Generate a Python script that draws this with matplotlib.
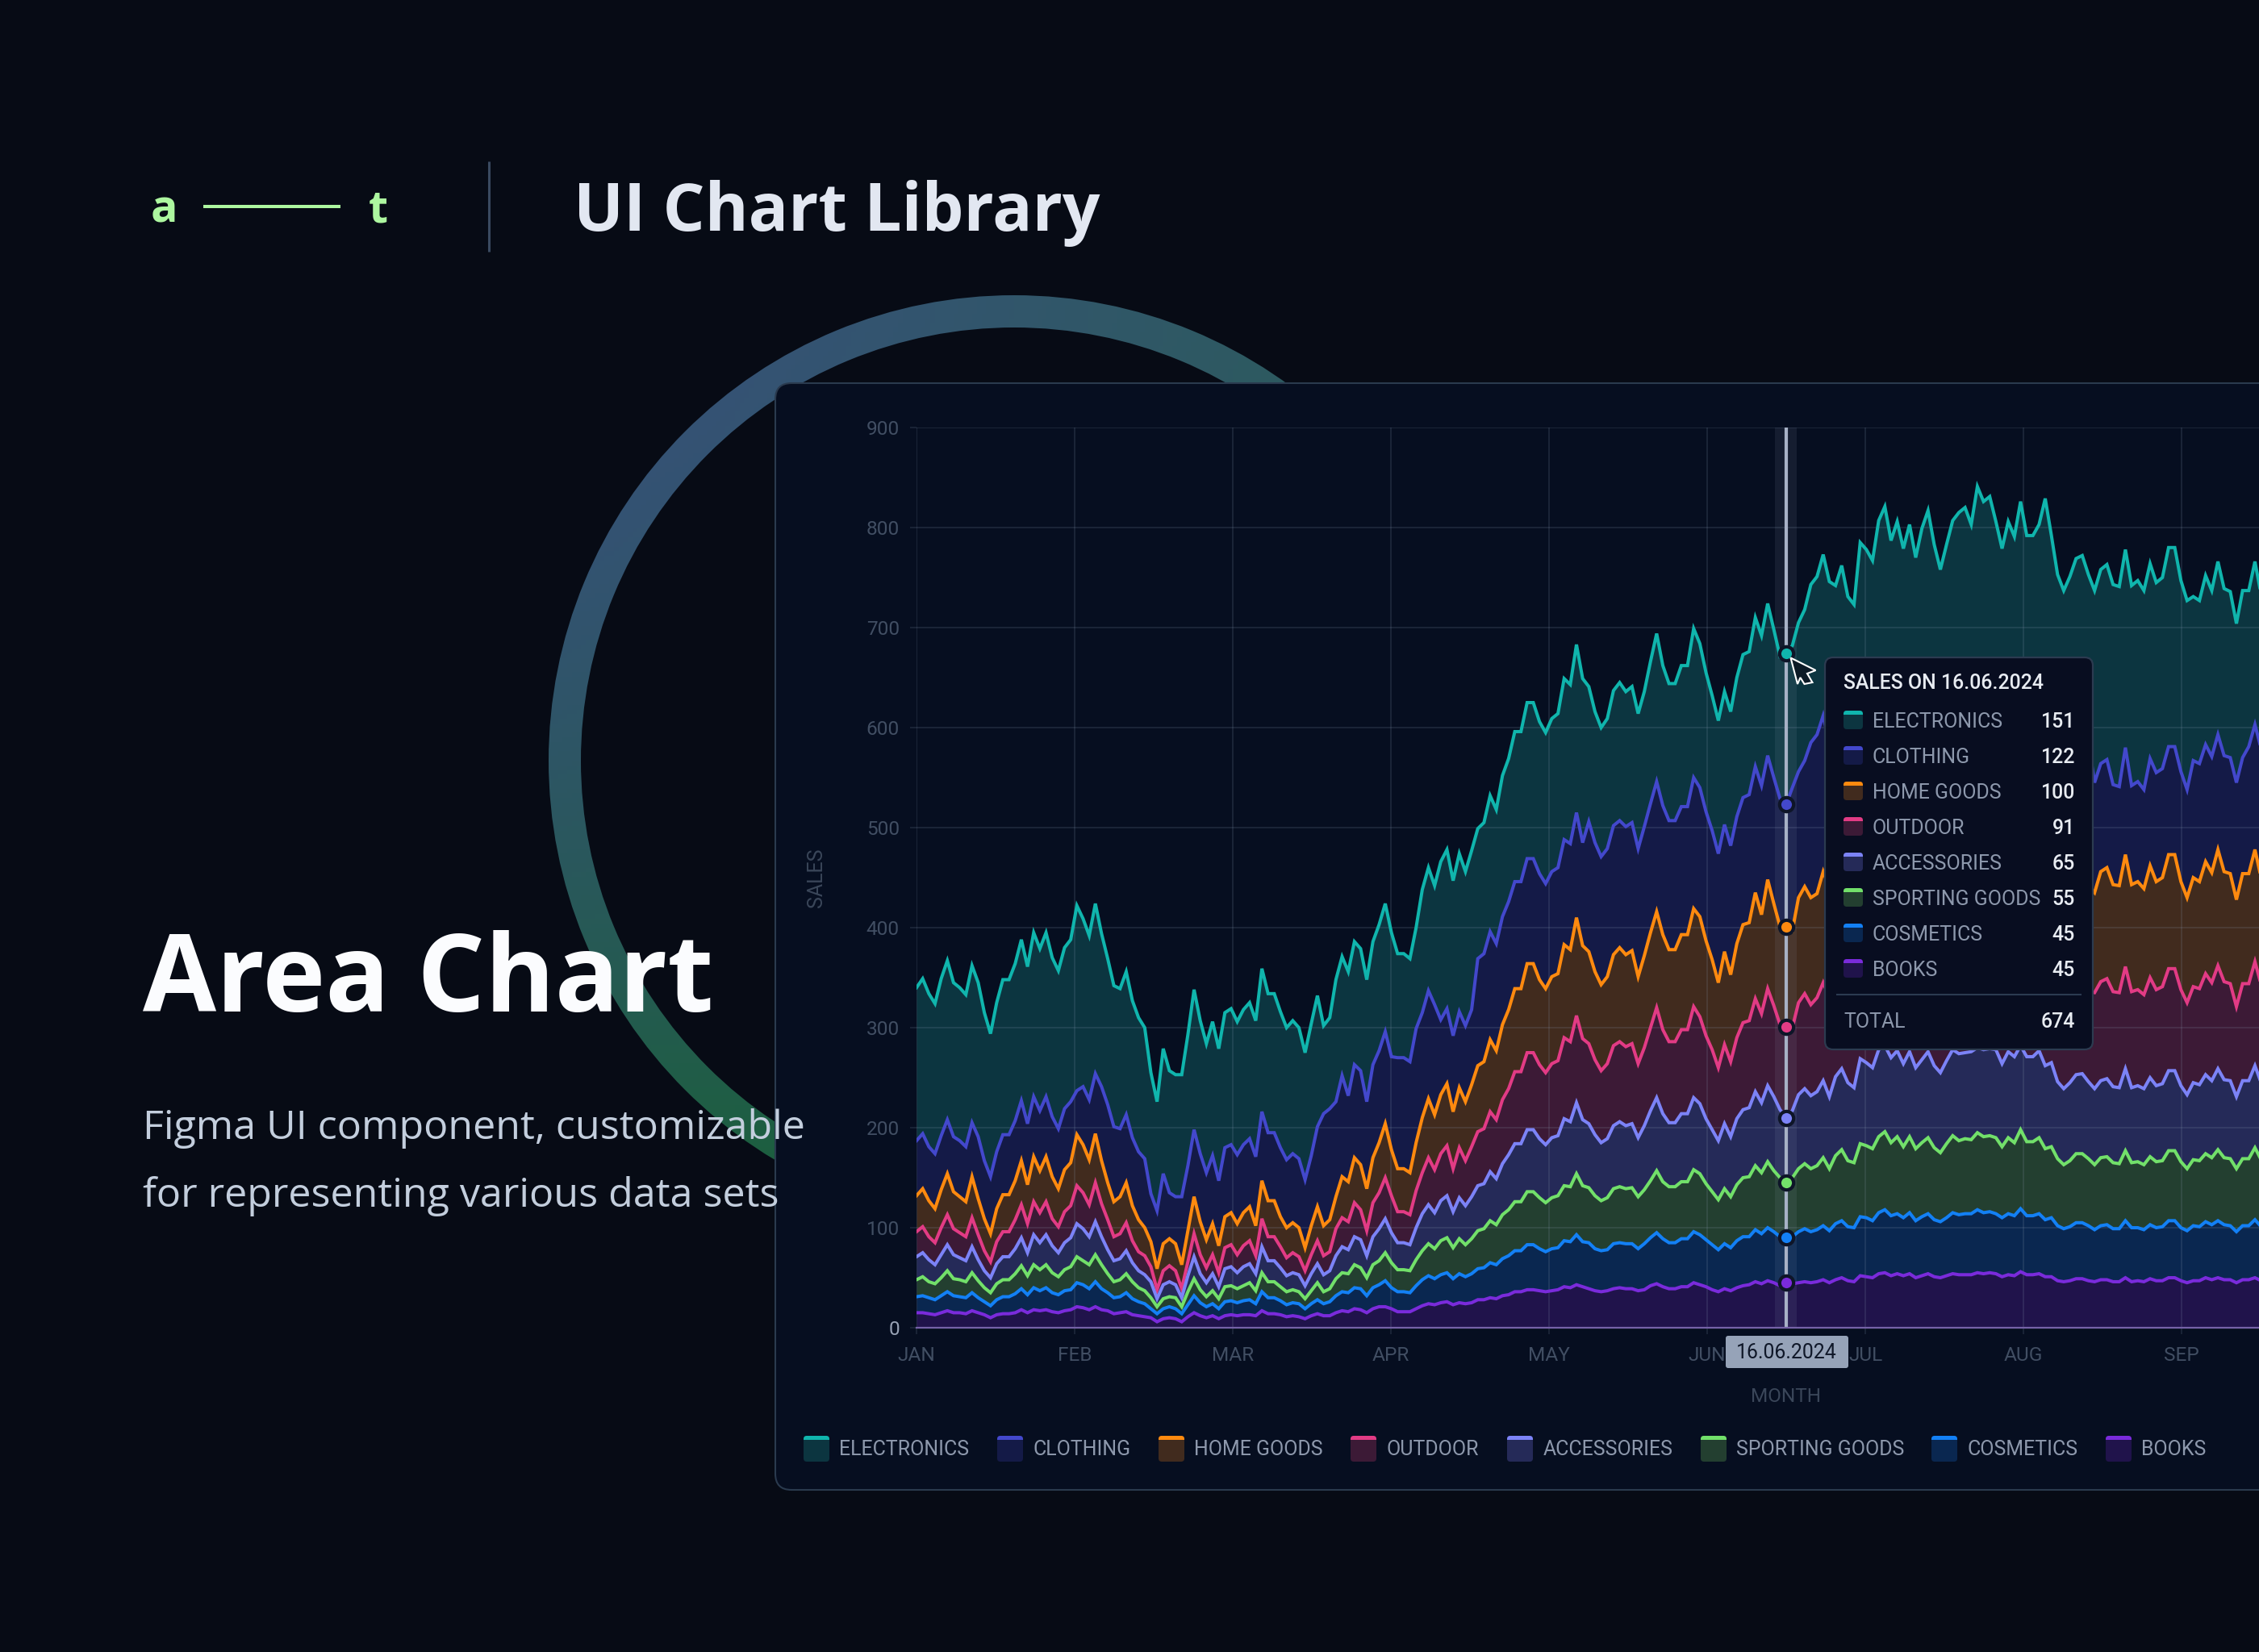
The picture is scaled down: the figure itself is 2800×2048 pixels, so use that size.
import numpy as np
import matplotlib
matplotlib.use('Agg')
import matplotlib.pyplot as plt
from matplotlib.patches import FancyBboxPatch, Rectangle, Polygon, Wedge
from matplotlib.colors import to_rgb

# stacked sales levels, one value per sample, read as the top edge of each band
electronics_top = [
    340,349,334,324,349,367,345,340,333,362,
    345,315,294,325,348,348,364,388,361,395,
    379,395,370,357,380,388,422,409,392,424,
    394,369,342,339,356,327,310,300,255,226,
    279,257,253,253,293,338,307,284,306,279,
    315,319,306,318,325,307,359,334,334,316,
    300,307,300,275,304,332,302,310,348,371,
    356,386,379,348,386,403,424,395,374,374,
    369,400,438,460,442,466,478,447,474,456,
    477,499,505,532,518,552,569,596,596,625,
    625,606,595,609,614,649,643,683,649,641,
    616,600,609,637,645,636,641,614,636,666,
    694,662,644,644,662,662,699,684,655,632,
    607,636,616,650,673,676,710,692,724,698,
    671,674,682,705,718,743,751,773,746,742,
    762,731,723,785,778,767,807,821,787,806,
    779,803,770,799,817,783,758,783,807,815,
    820,803,841,826,831,806,779,806,791,826,
    792,792,803,829,792,753,737,751,769,772,
    753,737,758,763,743,741,778,742,747,737,
    764,745,750,780,780,747,727,731,727,752,
    737,766,739,736,704,737,737,766,733]
clothing_top = [
    187,194,181,174,192,208,191,187,181,205,
    191,167,151,176,193,193,207,227,204,231,
    217,231,211,199,219,226,237,241,228,254,
    241,223,201,199,213,190,176,169,134,117,
    154,135,131,131,162,198,174,155,172,147,
    180,183,173,183,189,171,216,195,195,180,
    168,174,169,148,172,201,214,219,226,252,
    232,263,257,226,263,277,296,271,270,270,
    266,299,315,337,323,308,319,292,316,302,
    318,369,374,396,384,411,426,446,446,469,
    469,454,444,456,460,488,484,515,485,506,
    485,471,479,502,507,501,505,479,501,524,
    546,522,507,507,521,521,550,540,516,497,
    474,503,482,511,530,533,561,542,572,550,
    529,523,540,556,567,585,593,612,585,582,
    595,572,566,610,605,598,628,640,615,628,
    608,626,600,622,636,610,592,610,628,634,
    640,626,655,645,648,628,608,628,616,645,
    618,618,626,646,618,588,575,586,600,600,
    585,545,564,568,543,541,580,542,546,538,
    569,555,559,581,581,556,538,567,564,583,
    571,593,572,570,545,570,581,603,579]
home_goods_top = [
    132,139,127,119,138,154,136,131,126,151,
    129,109,94,119,133,133,147,167,143,171,
    157,171,151,139,158,165,193,183,168,194,
    167,145,126,131,145,122,108,100,86,59,
    84,89,84,63,97,131,106,88,104,82,
    111,115,104,115,121,102,147,127,127,111,
    100,105,100,80,102,121,102,108,131,151,
    146,170,163,139,170,185,204,178,159,159,
    155,185,210,229,213,233,244,216,240,226,
    243,262,266,288,277,303,318,339,339,364,
    364,348,339,351,354,383,378,410,382,376,
    356,343,351,373,380,373,377,351,372,395,
    416,393,378,378,393,393,419,411,387,368,
    345,376,353,384,403,405,435,413,448,424,
    401,401,397,430,441,430,434,456,440,436,
    450,430,425,462,456,450,476,486,462,476,
    458,472,452,470,482,460,444,460,476,482,
    486,472,498,488,492,474,458,474,464,488,
    466,466,472,490,466,442,430,440,454,454,
    442,435,456,460,443,442,473,443,446,439,
    462,446,450,473,473,446,430,450,446,466,
    455,478,456,454,428,454,454,478,450]
outdoor_top = [
    96,101,91,85,100,113,99,95,91,110,
    93,77,66,86,96,96,108,123,104,126,
    115,126,109,101,116,122,142,135,123,145,
    124,108,91,94,105,87,76,72,61,38,
    57,62,57,39,66,94,73,60,73,55,
    80,83,73,82,87,72,109,91,91,81,
    70,75,71,57,73,87,72,76,99,110,
    106,125,118,97,125,135,150,132,116,116,
    113,137,155,170,158,174,182,159,180,167,
    181,196,199,216,208,228,239,256,256,275,
    275,263,255,264,267,290,286,312,289,284,
    268,257,264,282,286,281,284,264,280,300,
    320,298,286,286,298,298,321,311,292,278,
    260,283,266,290,305,307,329,314,339,322,
    303,301,300,325,334,323,330,345,330,328,
    340,322,318,350,346,340,360,368,350,360,
    346,358,342,356,366,348,336,348,362,366,
    370,358,378,370,372,360,346,358,352,370,
    354,354,358,372,354,336,326,334,344,344,
    336,335,346,349,336,335,361,336,338,333,
    350,338,341,359,359,338,325,341,339,354,
    345,362,346,344,321,344,344,366,343]
accessories_top = [
    71,75,68,63,73,83,73,70,67,81,
    68,57,50,64,71,71,79,90,75,93,
    85,93,82,75,85,90,104,99,91,106,
    91,78,67,69,77,65,57,53,46,29,
    43,46,43,30,52,71,54,45,54,41,
    59,61,55,61,64,54,81,67,67,60,
    52,55,53,42,54,64,53,57,72,81,
    78,91,88,72,91,99,109,95,85,85,
    83,100,114,123,115,127,132,116,130,122,
    131,142,144,156,149,164,173,184,184,198,
    198,189,183,190,192,209,206,225,208,204,
    193,185,189,202,206,202,204,190,202,217,
    230,214,205,205,214,214,230,224,209,198,
    187,204,191,209,218,220,236,225,242,231,
    218,210,217,233,239,232,236,247,231,251,
    259,245,240,269,265,260,278,282,270,277,
    264,276,260,268,276,262,255,267,278,274,
    275,276,280,278,279,278,264,276,271,282,
    271,271,277,262,265,246,239,245,253,254,
    246,239,247,249,241,240,259,240,242,239,
    250,242,244,257,257,242,233,245,243,253,
    247,259,248,247,231,247,247,262,245]
sporting_top = [
    48,51,46,44,50,57,49,48,46,55,
    47,40,35,44,48,48,54,62,52,63,
    58,63,55,51,58,61,71,67,63,73,
    63,54,46,48,54,46,40,37,30,21,
    29,31,30,21,36,49,38,31,37,29,
    41,42,39,42,45,37,55,46,46,41,
    36,38,36,29,37,45,36,39,49,55,
    54,63,60,50,63,67,75,65,58,58,
    57,68,77,84,79,87,90,80,89,83,
    89,97,99,107,103,113,118,126,126,136,
    136,130,125,130,132,142,141,154,142,140,
    132,127,130,139,141,139,140,131,138,147,
    157,146,141,141,146,146,158,154,144,136,
    128,139,131,143,150,151,162,155,166,157,
    150,145,150,159,164,159,162,170,159,172,
    178,167,165,184,182,179,191,196,185,191,
    181,191,179,185,190,180,175,184,192,187,
    189,188,195,191,192,190,181,190,185,198,
    186,186,190,179,181,169,163,167,174,174,
    169,163,170,171,165,164,177,165,166,163,
    171,166,167,177,177,166,159,168,167,174,
    170,178,170,169,159,169,169,180,168]
cosmetics_top = [
    31,32,30,28,32,36,32,31,30,35,
    30,26,22,28,31,31,34,39,33,40,
    37,40,35,33,37,38,45,43,39,46,
    39,35,30,31,35,29,26,24,19,14,
    19,21,19,14,23,32,25,21,24,19,
    26,27,25,27,28,24,36,30,30,27,
    23,25,24,19,24,28,24,26,32,36,
    35,40,39,32,40,43,47,40,36,36,
    35,42,48,52,49,53,55,49,54,51,
    54,59,60,65,63,69,72,77,77,83,
    83,79,76,79,80,87,86,93,86,85,
    79,77,78,84,85,84,84,79,84,90,
    95,89,85,85,89,89,96,93,88,83,
    78,84,80,87,91,91,98,94,100,96,
    91,90,91,96,99,96,98,102,97,104,
    107,101,100,111,110,107,115,118,112,114,
    110,115,107,111,114,108,106,110,115,113,
    114,114,118,115,116,114,110,114,112,119,
    112,112,114,108,110,102,99,101,105,105,
    102,98,102,103,99,99,107,100,100,98,
    103,100,101,107,107,100,97,102,101,106,
    103,107,103,102,96,102,102,108,101]
books_top = [
    15,15,14,13,15,17,15,15,14,17,
    15,13,10,13,14,14,15,18,15,18,
    17,18,16,15,17,18,21,20,18,21,
    18,17,14,15,16,13,12,11,10,6,
    9,10,9,6,11,15,12,10,12,9,
    12,13,12,13,13,12,17,14,14,13,
    11,12,11,9,12,14,12,12,15,17,
    16,19,18,15,19,21,21,19,16,16,
    16,19,22,24,23,25,26,23,25,24,
    25,28,28,30,29,32,33,36,36,38,
    38,37,36,37,38,41,40,43,41,39,
    37,36,37,39,40,39,39,37,38,42,
    44,41,39,39,41,41,45,43,41,38,
    36,39,37,40,42,43,46,44,47,45,
    42,45,44,45,46,45,46,48,45,48,
    50,47,46,52,51,50,54,55,52,54,
    52,54,50,52,54,51,50,52,54,53,
    53,53,55,54,55,54,51,53,52,56,
    53,53,54,51,51,47,46,47,49,49,
    47,46,48,48,46,46,50,46,47,46,
    49,47,47,50,50,47,45,47,47,50,
    48,50,48,48,45,48,48,50,47]

categories = ['ELECTRONICS', 'CLOTHING', 'HOME GOODS', 'OUTDOOR',
              'ACCESSORIES', 'SPORTING GOODS', 'COSMETICS', 'BOOKS']
months = ['JAN', 'FEB', 'MAR', 'APR', 'MAY', 'JUN', 'JUL', 'AUG', 'SEP']
y_ticks = [0, 100, 200, 300, 400, 500, 600, 700, 800, 900]
samples_per_month = 25.64
hover_sample = 141
hover_date = '16.06.2024'

line_colors = ['#10b5ad', '#4348cc', '#ff8a0f', '#e23b85',
               '#7c83f7', '#72e06a', '#1380f5', '#7a2bdb']
fill_colors = ['#0c3540', '#141a47', '#412b1e', '#3c1a36',
               '#252a58', '#233f30', '#0a2750', '#20134b']

BG = '#070b15'
PANEL = '#060e20'
BORDER = '#2a3a4e'
AXIS_TEXT = '#414e63'
LEGEND_TEXT = '#8d98ac'
VALUE_TEXT = '#e8ecf2'
TEXT_SIZE = 17.9

W, H = 2800, 2048

tops = np.array([electronics_top, clothing_top, home_goods_top, outdoor_top,
                 accessories_top, sporting_top, cosmetics_top, books_top], dtype=float)
x = np.arange(tops.shape[1])
floors = np.vstack([tops[1:], np.zeros(tops.shape[1])])
hover_values = (tops - floors)[:, hover_sample].astype(int)
hover_total = int(tops[0, hover_sample])

fig = plt.figure(figsize=(W / 100, H / 100), dpi=100, facecolor=BG)


def pixel_axes(zorder):
    a = fig.add_axes([0, 0, 1, 1], zorder=zorder)
    a.set_xlim(0, W)
    a.set_ylim(H, 0)
    a.axis('off')
    a.patch.set_visible(False)
    return a


# backdrop: gradient ring and the card
back = pixel_axes(0)
cx, cy, r_out = 1257, 943, 577
gy, gx = np.mgrid[0:1:200j, 0:1:200j]
c_tl, c_tr, c_bot = [np.array(to_rgb(c)) for c in ('#38507c', '#2b5c5a', '#1a603a')]
grad = np.empty((200, 200, 3))
for ch in range(3):
    top_mix = c_tl[ch] * (1 - gx) + c_tr[ch] * gx
    mix = gy ** 1.5
    grad[:, :, ch] = top_mix * (1 - mix) + c_bot[ch] * mix
ring = Wedge((cx, cy), r_out, 0, 360, width=40, transform=back.transData, facecolor='none')
im = back.imshow(grad, extent=(cx - r_out, cx + r_out, cy + r_out, cy - r_out), aspect='auto', zorder=1)
im.set_clip_path(ring)
back.set_xlim(0, W)
back.set_ylim(H, 0)

back.add_patch(FancyBboxPatch((961, 475), 2100, 1372, boxstyle='round,pad=0,rounding_size=20',
                              facecolor=PANEL, edgecolor=BORDER, linewidth=1.5, zorder=2))

# stacked area chart
ax = fig.add_axes([1136 / W, (H - 1646) / H, (W - 1136) / W, 1116 / H], zorder=1)
ax.patch.set_visible(False)
px_per_sample = 7.645
ax.set_xlim(0, (W - 1136) / px_per_sample)
ax.set_ylim(0, 900)

for top, floor, lc, fc in zip(tops, floors, line_colors, fill_colors):
    ax.fill_between(x, floor, top, color=fc, linewidth=0, zorder=1)
    ax.plot(x, top, color=lc, linewidth=2.9, solid_joinstyle='miter', zorder=4)

ax.set_axisbelow(False)
ax.grid(True, color='#8ea0b8', alpha=0.2, linewidth=1.1)
ax.set_xticks([samples_per_month * i for i in range(len(months))])
ax.set_xticklabels(months)
ax.set_yticks(y_ticks)
ax.tick_params(axis='both', length=5.8, width=1.1, color='#1f2a3d', labelcolor=AXIS_TEXT)
ax.tick_params(axis='y', pad=9.4)
ax.tick_params(axis='x', pad=11)
for lab in ax.get_xticklabels() + ax.get_yticklabels():
    lab.set_fontfamily('Roboto')
    lab.set_fontsize(17.6)
ax.get_yticklabels()[0].set_color('#98a2b5')
for s in ax.spines.values():
    s.set_visible(False)
ax.axhline(0, color='#7561a8', linewidth=1.6, zorder=5, clip_on=False)

# crosshair at the hovered sample
band = 13.5 / px_per_sample
ax.axvspan(hover_sample - band, hover_sample + band, color='#aebbd6', alpha=0.09, linewidth=0, zorder=3)
ax.axvline(hover_sample, color='#a7b1c6', linewidth=3, zorder=4.5)
for top, lc in zip(tops, line_colors):
    ax.plot(hover_sample, top[hover_sample], 'o', ms=12.5, mfc=lc, mec='#0e1528', mew=3, zorder=6)

# header, captions and everything else laid out in pixels
over = pixel_axes(3)


def label(px, py, s, size, color, family='Roboto', ha='left', va='baseline', weight='normal', **kw):
    return over.text(px, py, s, fontsize=size, color=color, family=family, ha=ha, va=va, weight=weight, **kw)


def swatch(px, py, w, h, cap, fc, lc):
    box = FancyBboxPatch((px, py), w, h, boxstyle='round,pad=0,rounding_size=4', facecolor=fc, edgecolor='none')
    over.add_patch(box)
    c = Rectangle((px, py), w, cap, facecolor=lc, edgecolor='none')
    over.add_patch(c)
    c.set_clip_path(box)


label(203, 276, 'a', 40, '#adf7a0', family='Open Sans', ha='center', weight='bold')
label(469, 276, 't', 40, '#adf7a0', family='Open Sans', ha='center', weight='bold')
over.plot([252, 422], [256, 256], color='#adf7a0', linewidth=2.9, solid_capstyle='butt')
over.plot([606, 606], [200, 312], color='#3a4a60', linewidth=2.2, solid_capstyle='butt')
label(711, 286, 'UI Chart Library', 59, '#e2e7f1', family='Open Sans', weight='bold')
label(177, 1254, 'Area Chart', 95, '#fbfcfe', family='Open Sans', weight='bold')
label(177, 1412, 'Figma UI component, customizable', 36.2, '#c3cedd', family='Open Sans')
label(177, 1496, 'for representing various data sets', 36.2, '#c3cedd', family='Open Sans')

# axis titles
label(1012, 1088, 'SALES', 18, '#3a4659', ha='center', va='center', rotation=90)
label(2214, 1731, 'MONTH', 17.6, '#3a4659', ha='center', va='center')

# date pill on the x axis
over.add_patch(FancyBboxPatch((2139, 1656), 152, 40, boxstyle='round,pad=0,rounding_size=3',
                              facecolor='#96a3b8', edgecolor='none'))
label(2214.5, 1684.5, hover_date, TEXT_SIZE, '#0f1728', ha='center')

# bottom legend
swatch_lefts = [996, 1236, 1436, 1674, 1868, 2108, 2394, 2610]
for sl, cat, lc, fc in zip(swatch_lefts, categories, line_colors, fill_colors):
    swatch(sl, 1780, 32, 32, 5, fc, lc)
    label(sl + 44.5, 1803.5, cat, TEXT_SIZE, LEGEND_TEXT)

# tooltip
over.add_patch(FancyBboxPatch((2262, 815), 332, 486, boxstyle='round,pad=0,rounding_size=10',
                              facecolor='#080d20', edgecolor='#2c3b50', linewidth=1.6))
label(2285, 854.5, f'SALES ON {hover_date}', TEXT_SIZE, VALUE_TEXT, weight='medium')
row_ys = [893, 937, 981, 1025, 1069, 1113, 1157, 1201]
for ry, cat, val, lc, fc in zip(row_ys, categories, hover_values, line_colors, fill_colors):
    swatch(2285, ry - 12, 24, 23, 4.5, fc, lc)
    label(2321, ry + 8.7, cat, TEXT_SIZE, LEGEND_TEXT)
    label(2572, ry + 8.7, str(val), TEXT_SIZE, VALUE_TEXT, ha='right', weight='medium')
over.plot([2277, 2579], [1233, 1233], color='#2c3b50', linewidth=1.5)
label(2285, 1274, 'TOTAL', TEXT_SIZE, LEGEND_TEXT)
label(2572, 1274, str(hover_total), TEXT_SIZE, VALUE_TEXT, ha='right', weight='medium')

# pointer
arrow = [(2219.5, 815.5), (2250.5, 831), (2240, 835), (2246.5, 846), (2236.5, 848), (2231.5, 840), (2228, 848)]
over.add_patch(Polygon(arrow, closed=True, facecolor='#0c1a26', edgecolor='white', linewidth=1.5, zorder=8))

fig.savefig('out.png', dpi=100, facecolor=BG)
